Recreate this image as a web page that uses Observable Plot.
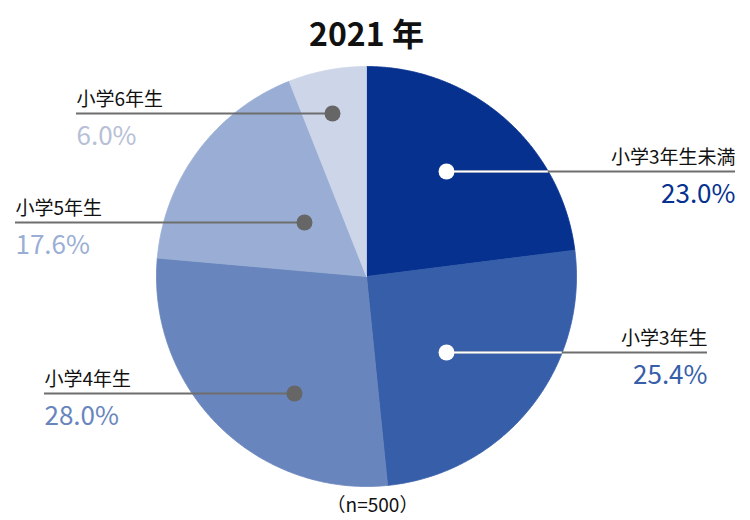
<!DOCTYPE html>
<html>
<head>
<meta charset="utf-8">
<script src="https://cdn.jsdelivr.net/npm/d3@7"></script>
<script src="https://cdn.jsdelivr.net/npm/@observablehq/plot@0.6"></script>
<style>
  html, body { margin: 0; padding: 0; background: #fff; }
  #chart svg { display: block; }
</style>
</head>
<body>
<div id="chart"></div>
<script>
// ---- data ----
const title = "2021 年";
const categories = ["小学3年生未満", "小学3年生", "小学4年生", "小学5年生", "小学6年生"];
const values = [23.0, 25.4, 28.0, 17.6, 6.0];
const sampleSize = 500;

// ---- styles / layout ----
const sliceColors = ["#06318f", "#365ea9", "#6985bd", "#9aaed5", "#cdd5e9"];
const pctColors   = ["#06318f", "#365ea9", "#6985bd", "#9aaed5", "#b7c0d6"];
const dotColors   = ["#ffffff", "#ffffff", "#666666", "#666666", "#666666"];
const labelSide   = ["right", "right", "left", "left", "left"];
const dotX        = [446, 446, 294, 304, 332];
const lineY       = [171, 352, 393, 222, 113];
const lineEnd     = [735, 707, 44, 15, 76];

const W = 750, H = 520;
const cx = 366, cy = 276, R = 210;
const font = "'Noto Sans CJK JP', 'Noto Sans', sans-serif";

// ---- pie geometry (angles clockwise from 12 o'clock) ----
const total = d3.sum(values);
let acc = 0;
const slices = values.map((v, i) => {
  const a0 = acc / total * 360;
  acc += v;
  const a1 = acc / total * 360;
  return {i, name: categories[i], value: v, a0, a1};
});
const toXY = (deg, r) => {
  const t = deg * Math.PI / 180;
  return {x: cx + r * Math.sin(t), y: cy - r * Math.cos(t)};
};
const slicePolys = slices.map(s => {
  const pts = [{x: cx, y: cy}];
  const steps = Math.max(2, Math.ceil((s.a1 - s.a0) / 0.5));
  for (let k = 0; k <= steps; k++) pts.push(toXY(s.a0 + (s.a1 - s.a0) * k / steps, R));
  pts.push({x: cx, y: cy});
  return pts;
});

// ---- annotations ----
const ann = slices.map(s => {
  const i = s.i;
  const right = labelSide[i] === "right";
  const edge = cx + Math.sqrt(R * R - (lineY[i] - cy) ** 2);
  return {
    name: s.name,
    pct: s.value.toFixed(1) + "%",
    y: lineY[i],
    dx: dotX[i],
    x1: right ? dotX[i] : lineEnd[i],
    x2: right ? lineEnd[i] : dotX[i],
    tx: lineEnd[i],
    anchor: right ? "end" : "start",
    edge,
    white: dotColors[i] === "#ffffff",
    dot: dotColors[i],
    pc: pctColors[i]
  };
});
const rightAnn = ann.filter(d => d.anchor === "end");
const leftAnn = ann.filter(d => d.anchor === "start");

const marks = [
  ...slicePolys.map((pts, i) => Plot.line(pts, {x: "x", y: "y", fill: sliceColors[i], stroke: sliceColors[i], strokeWidth: 0.8})),
  Plot.ruleY(ann, {y: "y", x1: "x1", x2: "x2", stroke: "#6e6e6e", strokeWidth: 2}),
  Plot.ruleY(ann.filter(d => d.white), {y: "y", x1: "dx", x2: "edge", stroke: "#ffffff", strokeWidth: 2}),
  Plot.dot(ann, {x: "dx", y: "y", r: 8, fill: d => d.dot, stroke: "none"}),
  Plot.text(rightAnn, {x: "tx", y: d => d.y - 8, text: "name", textAnchor: "end", lineAnchor: "bottom", fontSize: 19, fill: "#111", fontFamily: font}),
  Plot.text(leftAnn, {x: "tx", y: d => d.y - 8, text: "name", textAnchor: "start", lineAnchor: "bottom", fontSize: 19, fill: "#111", fontFamily: font}),
  Plot.text(rightAnn, {x: "tx", y: d => d.y + 31, text: "pct", textAnchor: "end", lineAnchor: "bottom", fontSize: 26, fill: d => d.pc, fontFamily: font, fontWeight: 400}),
  Plot.text(leftAnn, {x: "tx", y: d => d.y + 31, text: "pct", textAnchor: "start", lineAnchor: "bottom", fontSize: 26, fill: d => d.pc, fontFamily: font, fontWeight: 400}),
  Plot.text([title], {x: () => cx, y: () => 45, text: d => d, textAnchor: "middle", lineAnchor: "bottom", fontSize: 32, fontWeight: 700, fill: "#111", fontFamily: font}),
  Plot.text([`（n=${sampleSize}）`], {x: () => cx + 6, y: () => 511, text: d => d, textAnchor: "middle", lineAnchor: "bottom", fontSize: 19, fill: "#111", fontFamily: font})
];

const chart = Plot.plot({
  width: W,
  height: H,
  margin: 0,
  x: {domain: [0, W], range: [0, W], axis: null},
  y: {domain: [0, H], range: [0, H], axis: null},
  style: {fontFamily: font, background: "#fff"},
  marks
});
document.getElementById("chart").appendChild(chart);
</script>
</body>
</html>
